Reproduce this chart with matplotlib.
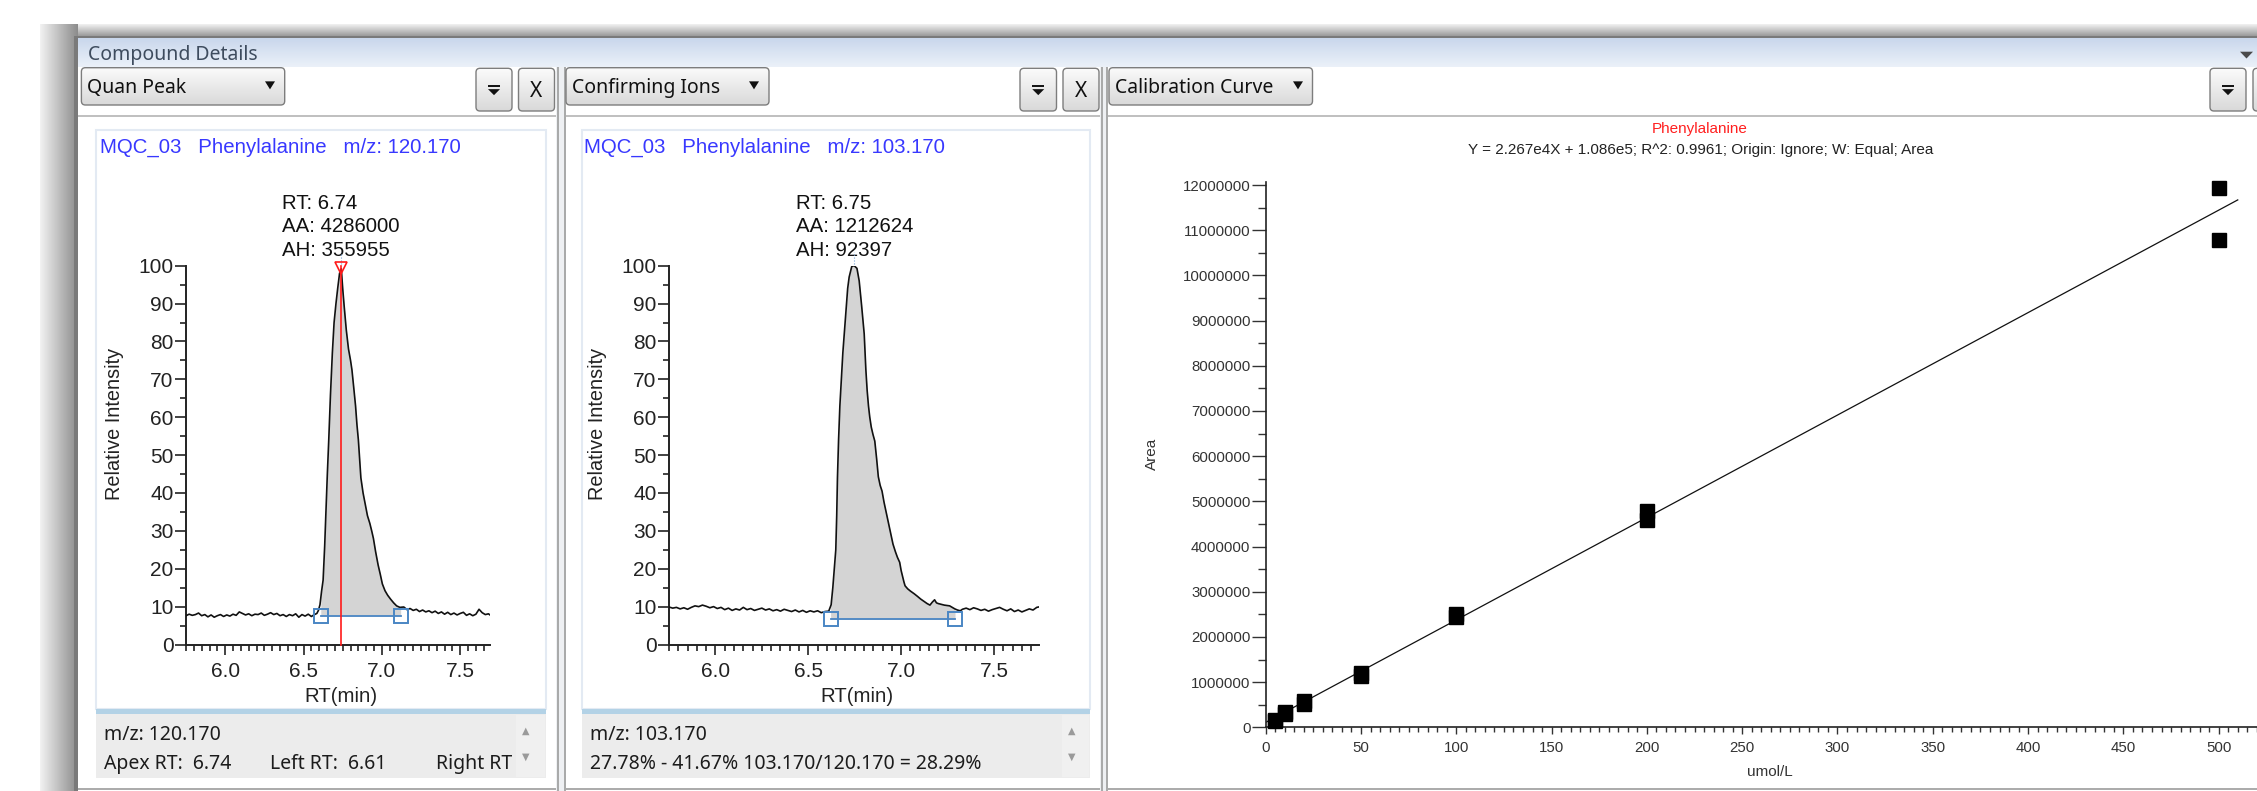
import numpy as np
import matplotlib
matplotlib.use('Agg')
import matplotlib.pyplot as plt
from matplotlib.patches import Rectangle, FancyBboxPatch, Polygon
from matplotlib.ticker import MultipleLocator
from matplotlib.colors import LinearSegmentedColormap

W, H, DPI = 2257, 791, 100

# ------------------------------------------------------------------ data
sample_name = "MQC_03"
compound = "Phenylalanine"
quan_mz = "120.170"
conf_mz = "103.170"
quan_labels = ["RT: 6.74", "AA: 4286000", "AH: 355955"]
conf_labels = ["RT: 6.75", "AA: 1212624", "AH: 92397"]
quan_info = ["m/z: 120.170", "Apex RT:  6.74", "Left RT:  6.61", "Right RT"]
conf_info = ["m/z: 103.170", "27.78% - 41.67% 103.170/120.170 = 28.29%"]

quan_rt = [5.75, 5.77, 5.79, 5.81, 5.83, 5.85, 5.87, 5.89, 5.91, 5.93, 5.95, 5.97, 5.99,
           6.01, 6.03, 6.05, 6.07, 6.09, 6.11, 6.13, 6.15, 6.17, 6.19, 6.21, 6.23, 6.25,
           6.27, 6.29, 6.31, 6.33, 6.35, 6.37, 6.39, 6.41, 6.43, 6.45, 6.47, 6.49, 6.51,
           6.53, 6.55, 6.57, 6.585, 6.595, 6.605, 6.615, 6.625, 6.635, 6.643, 6.652,
           6.661, 6.672, 6.684, 6.695, 6.707, 6.718, 6.730, 6.741, 6.750, 6.759, 6.773,
           6.787, 6.800, 6.809, 6.820, 6.832, 6.841, 6.850, 6.858, 6.866, 6.880, 6.894,
           6.908, 6.923, 6.935, 6.946, 6.960, 6.976, 6.990, 7.003, 7.020, 7.037, 7.055,
           7.075, 7.094, 7.115, 7.140, 7.16, 7.18, 7.20, 7.22, 7.24, 7.26, 7.28, 7.30,
           7.32, 7.34, 7.36, 7.38, 7.40, 7.42, 7.44, 7.46, 7.48, 7.50, 7.52, 7.54, 7.56,
           7.58, 7.60, 7.62, 7.64, 7.66, 7.68, 7.70]
quan_int = [7.6, 8.0, 7.7, 7.9, 8.3, 7.6, 7.9, 7.3, 7.8, 7.2, 7.6, 7.9, 7.4,
            7.8, 7.5, 8.0, 7.7, 8.6, 8.2, 7.8, 8.1, 7.6, 8.0, 7.9, 8.3, 7.7,
            8.0, 8.4, 7.9, 8.2, 7.6, 7.9, 7.4, 7.9, 7.6, 8.1, 7.2, 7.9, 7.5,
            8.0, 7.4, 7.9, 8.2, 9.0, 10.5, 14, 17, 26, 35, 45,
            54, 66, 77, 85, 90, 94, 98, 99.2, 94, 89.5, 83,
            78, 75, 72.5, 68, 63, 58, 54, 49, 44, 40, 37,
            34, 32, 30, 28, 24.5, 21, 18.5, 16, 14.2, 13, 12,
            11, 10.2, 9.8, 9.9, 9.2, 9.5, 9.0, 9.3, 8.7, 9.1, 8.6, 8.9,
            8.4, 8.8, 8.2, 8.6, 8.0, 8.5, 7.9, 8.3, 7.8, 8.2, 8.5, 7.7, 8.1,
            7.6, 8.0, 9.3, 8.4, 7.9, 8.1, 7.5]
quan_left, quan_right, quan_base, quan_apex = 6.61, 7.12, 7.5, 6.74

conf_rt = [5.75, 5.77, 5.79, 5.81, 5.83, 5.85, 5.87, 5.89, 5.91, 5.93, 5.95, 5.97, 5.99,
           6.01, 6.03, 6.05, 6.07, 6.09, 6.11, 6.13, 6.15, 6.17, 6.19, 6.21, 6.23, 6.25,
           6.27, 6.29, 6.31, 6.33, 6.35, 6.37, 6.39, 6.41, 6.43, 6.45, 6.47, 6.49, 6.51,
           6.53, 6.55, 6.57, 6.59, 6.61, 6.623, 6.632, 6.640, 6.648, 6.653, 6.657, 6.663,
           6.670, 6.678, 6.686, 6.695, 6.705, 6.712, 6.720, 6.734, 6.747, 6.762, 6.774,
           6.787, 6.801, 6.810, 6.817, 6.824, 6.831, 6.839, 6.848, 6.858, 6.868, 6.877,
           6.887, 6.897, 6.908, 6.920, 6.932, 6.944, 6.956, 6.969, 6.980, 6.992, 7.000,
           7.008, 7.015, 7.021, 7.035, 7.050, 7.070, 7.088, 7.105, 7.126, 7.140, 7.155,
           7.168, 7.180, 7.190, 7.200, 7.215, 7.232, 7.246, 7.261, 7.275, 7.289, 7.303,
           7.318, 7.33, 7.35, 7.37, 7.39, 7.41, 7.43, 7.45, 7.47, 7.49, 7.51, 7.53, 7.55,
           7.57, 7.59, 7.61, 7.63, 7.65, 7.67, 7.69, 7.71, 7.73, 7.74]
conf_int = [9.9, 9.6, 9.8, 9.4, 9.7, 9.3, 9.8, 10.2, 10.0, 10.4, 10.1, 9.7, 10.0,
            9.5, 9.8, 9.2, 9.6, 9.0, 9.4, 9.1, 9.8, 9.2, 9.5, 9.0, 9.3, 9.6,
            9.1, 9.4, 8.9, 9.2, 8.8, 9.3, 9.0, 8.7, 9.1, 8.6, 9.0, 8.5, 8.9,
            8.6, 8.9, 8.4, 8.7, 8.8, 10.5, 15, 20, 25, 34, 44, 54,
            63, 70, 77, 83, 89.5, 94, 97, 99.8, 100, 99.3, 96,
            89.5, 82, 72.5, 67, 63, 60, 57.4, 55.5, 53.7, 49, 44.3,
            42, 40.5, 37.5, 34.8, 32, 29.2, 26.5, 24.5, 23, 21.7, 19.5,
            17.9, 16.5, 15.5, 14.7, 14.1, 13.4, 12.7, 12.0, 11.3, 10.8, 10.4,
            11.2, 11.8, 11.0, 10.8, 10.6, 10.4, 10.3, 10.2, 9.8, 9.4, 9.1,
            8.9, 9.3, 9.6, 9.2, 9.7, 9.4, 9.0, 9.3, 8.8, 9.2, 9.5, 9.8, 9.3,
            8.9, 9.4, 8.7, 9.1, 8.6, 9.0, 9.4, 9.1, 9.8, 9.9]
conf_left, conf_right, conf_base, conf_apex = 6.62, 7.29, 6.6, 6.747

cal_conc = [5, 5, 10, 10, 20, 20, 50, 50, 100, 100, 200, 200, 500, 500]
cal_area = [1.3e5, 1.6e5, 2.9e5, 3.3e5, 5.2e5, 5.9e5, 1.14e6, 1.20e6,
            2.45e6, 2.51e6, 4.58e6, 4.79e6, 1.079e7, 1.194e7]
cal_slope, cal_icpt = 2.267e4, 1.086e5
cal_line_x = [0, 510]
cal_title = "Phenylalanine"
cal_eq = "Y = 2.267e4X + 1.086e5; R^2: 0.9961; Origin: Ignore; W: Equal; Area"
cal_yticks = [0, 1000000, 2000000, 3000000, 4000000, 5000000, 6000000, 7000000,
              8000000, 9000000, 10000000, 11000000, 12000000]
cal_xticks = [0, 50, 100, 150, 200, 250, 300, 350, 400, 450, 500]
chrom_yticks = [0, 10, 20, 30, 40, 50, 60, 70, 80, 90, 100]
chrom_xticks = [6.0, 6.5, 7.0, 7.5]

# ------------------------------------------------------------------ fonts
CH = ['Liberation Sans', 'DejaVu Sans']
UI = ['Noto Sans', 'DejaVu Sans']
plt.rcParams['font.family'] = CH

fig = plt.figure(figsize=(W / DPI, H / DPI), dpi=DPI)
fig.patch.set_facecolor('white')
bg = fig.add_axes([0, 0, 1, 1])
bg.axis('off')


def grad(x0, y0, x1, y1, c0, c1, vertical=True, clip=None, z=1):
    cmap = LinearSegmentedColormap.from_list('g', [c0, c1])
    arr = np.linspace(0, 1, 64).reshape(-1, 1) if vertical else np.linspace(0, 1, 64).reshape(1, -1)
    im = bg.imshow(arr, cmap=cmap, extent=(x0, x1, y1, y0), aspect='auto',
                   interpolation='bilinear', zorder=z)
    if clip is not None:
        im.set_clip_path(clip)
    return im


def rect(x0, y0, x1, y1, fc, ec='none', lw=0, z=1):
    bg.add_patch(Rectangle((x0, y0), x1 - x0, y1 - y0, fc=fc, ec=ec, lw=lw, zorder=z))


def hline(x0, x1, y, c, lw=1.0, z=3):
    bg.plot([x0, x1], [y, y], color=c, lw=lw, zorder=z, solid_capstyle='butt')


def vline(x, y0, y1, c, lw=1.0, z=3):
    bg.plot([x, x], [y0, y1], color=c, lw=lw, zorder=z, solid_capstyle='butt')


def button(x0, y0, x1, y1, z=4):
    p = FancyBboxPatch((x0, y0), x1 - x0, y1 - y0, boxstyle='round,pad=0,rounding_size=4',
                       fc='none', ec='#7d7d7d', lw=1.0, zorder=z + 1)
    bg.add_patch(p)
    clipp = FancyBboxPatch((x0, y0), x1 - x0, y1 - y0, boxstyle='round,pad=0,rounding_size=4',
                           fc='none', ec='none', transform=bg.transData)
    bg.add_patch(clipp)
    grad(x0, y0, x1, y1, '#fbfbfb', '#d9d9d9', clip=clipp, z=z)


def filter_btn(x0, y0, x1, y1):
    button(x0, y0, x1, y1)
    cx, cy = (x0 + x1) / 2, (y0 + y1) / 2
    bg.plot([cx - 6, cx + 6], [cy - 3.5, cy - 3.5], color='#111111', lw=1.4, zorder=7,
            solid_capstyle='butt')
    bg.add_patch(Polygon([[cx - 6, cy - 0.5], [cx + 6, cy - 0.5], [cx, cy + 5.5]],
                         closed=True, fc='#111111', ec='none', zorder=7))


def close_btn(x0, y0, x1, y1):
    button(x0, y0, x1, y1)
    cx, cy = (x0 + x1) / 2, (y0 + y1) / 2
    bg.text(cx, cy + 7.5, 'X', fontsize=15, family=UI, ha='center', va='baseline',
            color='#111111', zorder=7)


def dropdown(x0, y0, x1, y1, label, tri_x):
    button(x0, y0, x1, y1)
    bg.text(x0 + 6, (y0 + y1) / 2 + 7, label, fontsize=14, family=UI, ha='left',
            va='baseline', color='#111111', zorder=7)
    bg.add_patch(Polygon([[tri_x - 5, (y0 + y1) / 2 - 5], [tri_x + 5, (y0 + y1) / 2 - 5],
                          [tri_x, (y0 + y1) / 2 + 3]], closed=True, fc='#111111',
                         ec='none', zorder=7))


# ---- window frame
grad(54, 24, W, 38, '#f2f2f2', '#8c8c8c', vertical=True, z=1)
grad(40, 24, 78, H, '#f2f2f2', '#8c8c8c', vertical=False, z=1)
rect(74, 36, 78, H, '#7a7a7a', z=2)
rect(74, 36, W, 38, '#7a7a7a', z=2)
# title bar
grad(78, 38, W, 67, '#c9d7ec', '#ebf1f9', z=2)
bg.text(88, 53 + 7, 'Compound Details', fontsize=14, family=UI, ha='left',
        va='baseline', color='#3e4c5e', zorder=5)
bg.add_patch(Polygon([[2240, 51.7], [2253, 51.7], [2246.5, 58.5]], closed=True,
                     fc='#4a4a4a', ec='none', zorder=5))
# panel bodies
rect(78, 67, 556, H, 'white', z=2)
rect(566, 67, 1100, H, 'white', z=2)
rect(1108, 67, W, H, 'white', z=2)
# separators
rect(556, 67, 566, H, '#eef0f3', z=2)
vline(557.5, 67, H, '#9c9c9c', 1.2)
vline(564.5, 67, H, '#9c9c9c', 1.2)
rect(1100, 67, 1108, H, '#eef0f3', z=2)
vline(1101.5, 67, H, '#9c9c9c', 1.2)
vline(1106.5, 67, H, '#9c9c9c', 1.2)
# panel top/bottom lines
for a, b in [(78, 556), (566, 1100), (1108, W)]:
    hline(a, b, 115.5, '#b4b4b4', 1.2)
    hline(a, b, 788.5, '#9c9c9c', 1.2)

# header controls
dropdown(81.4, 67.7, 284.7, 105, 'Quan Peak', 270)
filter_btn(476, 68.3, 512, 111)
close_btn(518.5, 68.3, 554.5, 111)
dropdown(566, 67.7, 769, 105, 'Confirming Ions', 754)
filter_btn(1020, 68.3, 1056.5, 111)
close_btn(1063, 68.3, 1099, 111)
dropdown(1109, 67.7, 1312.5, 105, 'Calibration Curve', 1298)
filter_btn(2210, 68.3, 2246, 111)
button(2253, 68.3, 2290, 111)

# inner plot borders and info boxes
for (a, b, info, arrx) in [(96, 546, quan_info, 526), (582, 1089.6, conf_info, 1071.6)]:
    bg.add_patch(Rectangle((a, 130), b - a, 579, fc='none', ec='#e3eaf3', lw=1.5, zorder=3))
    rect(a, 709.3, b, 713.5, '#b3d2e6', z=3)
    rect(a, 713.5, b, 778.3, '#ececec', z=3)
    rect(arrx - 10, 715, b - 1, 777, '#f0f0f0', z=3)
    bg.text(arrx, 731, '\u25B2', fontsize=7, family=['DejaVu Sans'], ha='center',
            va='center', color='#9a9a9a', zorder=5)
    bg.text(arrx, 757, '\u25BC', fontsize=7, family=['DejaVu Sans'], ha='center',
            va='center', color='#9a9a9a', zorder=5)

bg.text(104.5, 733 + 7, quan_info[0], fontsize=14, family=UI, ha='left', va='baseline',
        color='#1c1c1c', zorder=5)
bg.text(104.5, 761.7 + 7, quan_info[1], fontsize=14, family=UI, ha='left', va='baseline',
        color='#1c1c1c', zorder=5)
bg.text(270, 761.7 + 7, quan_info[2], fontsize=14, family=UI, ha='left', va='baseline',
        color='#1c1c1c', zorder=5)
bg.text(436, 761.7 + 7, quan_info[3], fontsize=14, family=UI, ha='left', va='baseline',
        color='#1c1c1c', zorder=4)
bg.text(589.5, 733 + 7, conf_info[0], fontsize=14, family=UI, ha='left', va='baseline',
        color='#1c1c1c', zorder=5)
bg.text(589.5, 761.7 + 7, conf_info[1], fontsize=14, family=UI, ha='left', va='baseline',
        color='#1c1c1c', zorder=5)

bg.set_xlim(0, W)
bg.set_ylim(H, 0)


# ------------------------------------------------------------------ chromatograms
def ax_rect(x0, y0, x1, y1):
    return [x0 / W, 1 - y1 / H, (x1 - x0) / W, (y1 - y0) / H]


def chrom(box, xlim, rt, inten, left, right, base, apex, title, labels, lab_x,
          title_x, ylab_x, red_line):
    ax = fig.add_axes(ax_rect(*box))
    ax.set_facecolor('none')
    r = np.array(rt)
    v = np.array(inten)
    m = (r > left) & (r < right)
    xs = np.concatenate([[left], r[m], [right]])
    ys = np.concatenate([[np.interp(left, r, v)], v[m], [np.interp(right, r, v)]])
    ax.fill_between(xs, ys, base, color='#d4d4d4', lw=0, zorder=1)
    ax.plot(r, v, color='#111111', lw=1.2, zorder=3)
    ax.plot([left, right], [base, base], color='#4a86c4', lw=1.3, zorder=4)
    ax.plot([left, right], [base, base], 's', mfc='none', mec='#4a86c4', ms=10, mew=1.4,
            zorder=5, clip_on=False)
    if red_line:
        ax.plot([apex, apex], [0, 100], color='#ff1a1a', lw=1.2, zorder=6, clip_on=False)
        ax.plot([apex], [99.5], 'v', mfc='none', mec='#ff1a1a', ms=8.5, mew=1.2, zorder=7,
                clip_on=False)
    ax.plot([apex, apex], [100.5, 103.5], color='#7aa6d6', lw=0.8, ls=':', clip_on=False)
    ax.set_xlim(*xlim)
    ax.set_ylim(0, 100)
    for s in ['top', 'right']:
        ax.spines[s].set_visible(False)
    for s in ['left', 'bottom']:
        ax.spines[s].set_linewidth(1.4)
        ax.spines[s].set_color('#222222')
    ax.set_yticks(chrom_yticks)
    ax.yaxis.set_minor_locator(MultipleLocator(5))
    ax.set_xticks(chrom_xticks)
    ax.set_xticklabels(['%.1f' % x for x in chrom_xticks])
    ax.xaxis.set_minor_locator(MultipleLocator(0.05))
    ax.tick_params(axis='y', which='major', length=8, width=1.2, pad=1, labelsize=15,
                   colors='#222222')
    ax.tick_params(axis='y', which='minor', length=4.6, width=1.2, colors='#222222')
    ax.tick_params(axis='x', which='major', length=7.5, width=1.2, pad=5, labelsize=15,
                   colors='#222222')
    ax.tick_params(axis='x', which='minor', length=4.5, width=1.2, colors='#222222')
    for lab in ax.get_xticklabels() + ax.get_yticklabels():
        lab.set_family(CH)
    bg.text(title_x, 145 + 7.4, title, fontsize=14.7, family=CH, ha='left',
            va='baseline', color='#3838ff', zorder=6)
    for i, s in enumerate(labels):
        bg.text(lab_x, [201.4, 224.6, 248.6][i] + 7.4, s, fontsize=14.7, family=CH,
                ha='left', va='baseline', color='#111111', zorder=6)
    bg.text(ylab_x, 423.6, 'Relative Intensity', fontsize=14.3, family=CH, ha='center',
            va='center', rotation=90, color='#222222', zorder=6)
    bg.text((box[0] + box[2]) / 2 + 3, 697, 'RT(min)', fontsize=14.7, family=CH,
            ha='center', va='center', color='#222222', zorder=6)
    return ax


chrom((186, 265.7, 490, 644.5), (5.75, 7.69), quan_rt, quan_int, quan_left, quan_right,
      quan_base, quan_apex, sample_name + '   ' + compound + '   m/z: ' + quan_mz,
      quan_labels, 282, 100, 114, True)
chrom((669, 265.7, 1038.6, 644.5), (5.75, 7.74), conf_rt, conf_int, conf_left, conf_right,
      conf_base, conf_apex, sample_name + '   ' + compound + '   m/z: ' + conf_mz,
      conf_labels, 796.4, 584.3, 597.5, False)

# ------------------------------------------------------------------ calibration curve
ax3 = fig.add_axes(ax_rect(1265.7, 182.3, W, 727.3))
ax3.set_facecolor('none')
lx = np.array(cal_line_x, dtype=float)
ax3.plot(lx, cal_slope * lx + cal_icpt, color='#111111', lw=0.9, zorder=2)
ax3.plot(cal_conc, cal_area, 's', color='black', ms=10, zorder=3, clip_on=False)
ax3.set_xlim(0, 520.1)
ax3.set_ylim(0, 12.06e6)
for s in ['top', 'right']:
    ax3.spines[s].set_visible(False)
for s in ['left', 'bottom']:
    ax3.spines[s].set_linewidth(1.2)
    ax3.spines[s].set_color('#222222')
ax3.set_yticks(cal_yticks)
ax3.set_yticklabels([str(v) for v in cal_yticks])
ax3.yaxis.set_minor_locator(MultipleLocator(500000))
ax3.set_xticks(cal_xticks)
ax3.set_xticklabels([str(v) for v in cal_xticks])
ax3.xaxis.set_minor_locator(MultipleLocator(5))
ax3.tick_params(axis='y', which='major', length=10, width=1.0, pad=1, labelsize=10.8,
                colors='#333333')
ax3.tick_params(axis='y', which='minor', length=6, width=1.0, colors='#333333')
ax3.tick_params(axis='x', which='major', length=5, width=1.0, pad=5, labelsize=10.8,
                colors='#333333')
ax3.tick_params(axis='x', which='minor', length=3.5, width=1.0, colors='#333333')
bg.text(1700, 127.7 + 5.5, cal_title, fontsize=11, family=CH, ha='center', va='baseline',
        color='#ff2020', zorder=6)
bg.text(1701, 148.3 + 5.5, cal_eq, fontsize=11, family=CH, ha='center', va='baseline',
        color='#222222', zorder=6)
bg.text(1151.7, 454, 'Area', fontsize=11, family=CH, ha='center', va='center',
        rotation=90, color='#333333', zorder=6)
bg.text(1769.6, 772.4, 'umol/L', fontsize=11, family=CH, ha='center', va='center',
        color='#333333', zorder=6)

fig.savefig('out.png', dpi=DPI)
